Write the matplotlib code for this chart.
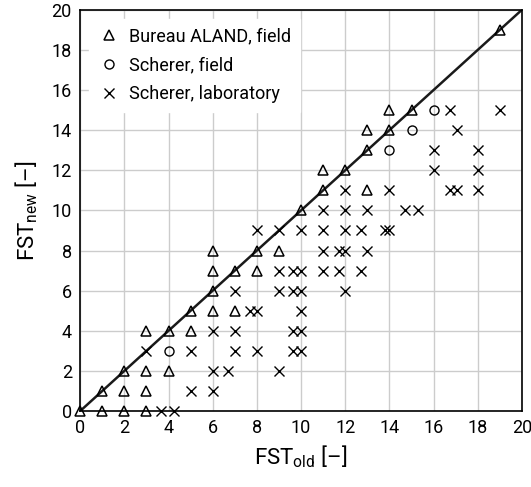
import matplotlib
matplotlib.use("Agg")
from matplotlib import pyplot as plt

plt.rcParams['font.family'] = ['Roboto', 'DejaVu Sans']
plt.rcParams['mathtext.fontset'] = 'custom'
plt.rcParams['mathtext.rm'] = 'Roboto'

# Bureau ALAND, field
aland_old = [0, 1, 2, 3, 1, 2, 3, 2, 3, 4, 3, 4, 5, 5, 6, 7, 6, 6, 7, 8, 6, 8, 9,
             10, 11, 11, 12, 13, 13, 13, 14, 14, 15, 19]
aland_new = [0, 0, 0, 0, 1, 1, 1, 2, 2, 2, 4, 4, 4, 5, 5, 5, 6, 7, 7, 7, 8, 8, 8,
             10, 11, 12, 12, 11, 13, 14, 14, 15, 15, 19]

# Scherer, field
sch_field_old = [4, 14, 15, 16]
sch_field_new = [3, 13, 14, 15]

# Scherer, laboratory
sch_lab_old = [3.65, 4.25,
               5, 6,
               6, 6.7, 9,
               3, 5, 7, 8, 9.65, 10,
               6, 7, 9.65, 10,
               7.7, 8, 10,
               7, 9, 9.65, 10, 12,
               9, 9.65, 10, 11, 11.7, 12.7,
               11, 11.7, 12, 13,
               8, 9, 10, 11, 12, 12.7, 13.8, 14,
               11, 12, 13, 14.7, 15.3,
               12, 14, 16.75, 17.05, 18,
               16, 18,
               16, 18,
               17.05,
               16.75, 19]
sch_lab_new = [0, 0,
               1, 1,
               2, 2, 2,
               3, 3, 3, 3, 3, 3,
               4, 4, 4, 4,
               5, 5, 5,
               6, 6, 6, 6, 6,
               7, 7, 7, 7, 7, 7,
               8, 8, 8, 8,
               9, 9, 9, 9, 9, 9, 9, 9,
               10, 10, 10, 10, 10,
               11, 11, 11, 11, 11,
               12, 12,
               13, 13,
               14,
               15, 15]

ticks = list(range(0, 21, 2))

fig = plt.figure(figsize=(5.31, 4.87), dpi=100)
ax = fig.add_axes([0.151, 0.156, 0.832, 0.824])

ax.plot([0, 20], [0, 20], color='#1a1a1a', lw=1.8, zorder=2)
ax.plot(aland_old, aland_new, ls='none', marker='^', ms=6.5, mfc='none',
        mec='black', mew=1.1, label='Bureau ALAND, field', zorder=3, clip_on=False)
ax.plot(sch_field_old, sch_field_new, ls='none', marker='o', ms=6.5, mfc='none',
        mec='black', mew=1.0, label='Scherer, field', zorder=3, clip_on=False)
ax.plot(sch_lab_old, sch_lab_new, ls='none', marker='x', ms=7.5,
        mec='black', mew=1.0, label='Scherer, laboratory', zorder=3, clip_on=False)

ax.set_xlim(0, 20)
ax.set_ylim(0, 20)
ax.set_xticks(ticks)
ax.set_yticks(ticks)
ax.tick_params(length=0, labelsize=13, pad=6)
ax.grid(True, color='#cccccc', lw=1.0, zorder=0)
ax.set_axisbelow(True)
for s in ax.spines.values():
    s.set_linewidth(1.2)

ax.set_xlabel(r'FST$_{\mathrm{old}}$ [–]', fontsize=16, labelpad=4)
ax.set_ylabel(r'FST$_{\mathrm{new}}$ [–]', fontsize=16, labelpad=8)

leg = ax.legend(loc='upper left', fontsize=13, frameon=True, fancybox=False,
                edgecolor='white', framealpha=1, borderaxespad=0.5,
                handletextpad=0.5, handlelength=1.2, labelspacing=0.6,
                borderpad=0.5)

fig.savefig('out.png', dpi=100)
